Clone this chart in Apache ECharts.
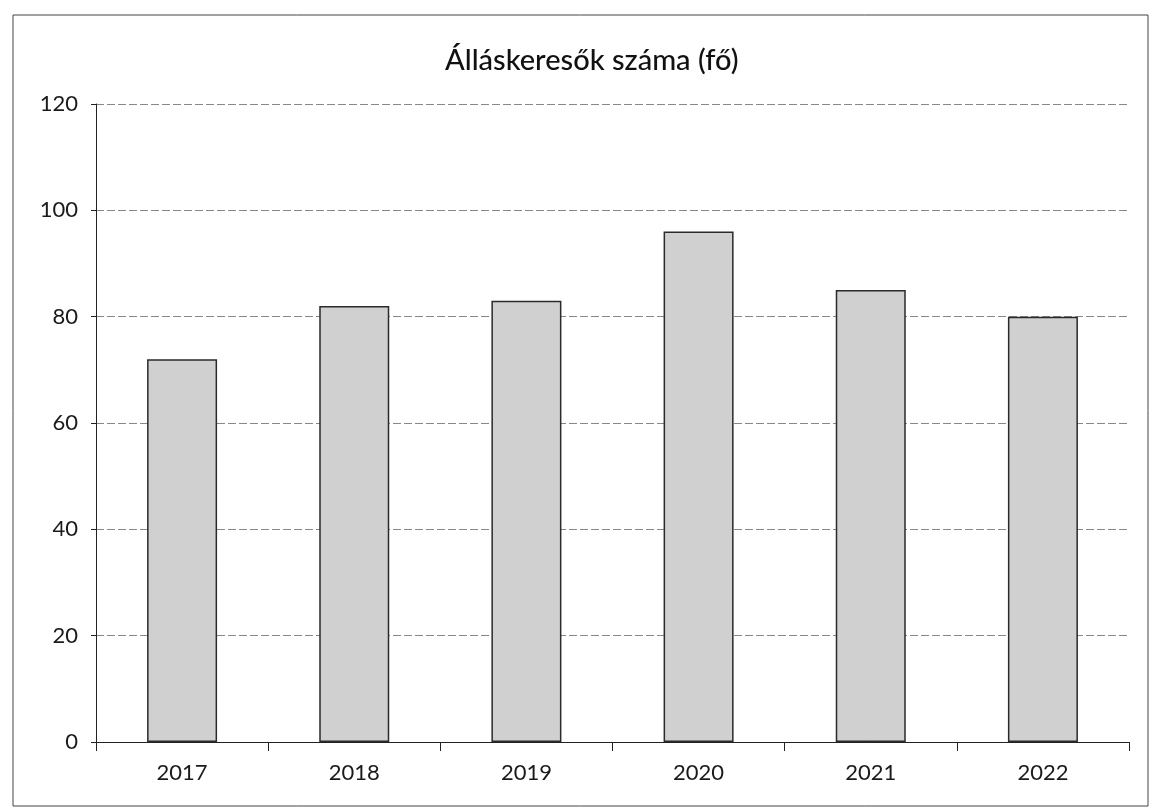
<!DOCTYPE html>
<html>
<head>
<meta charset="utf-8">
<script src="https://cdn.jsdelivr.net/npm/echarts@6/dist/echarts.min.js"></script>
<style>
html,body{margin:0;padding:0;background:#fff;}
#chart{width:1151px;height:810px;}
</style>
</head>
<body>
<div id="chart"></div>
<script>
const titleText = 'Álláskeresők száma (fő)';
const years = ['2017', '2018', '2019', '2020', '2021', '2022'];
const values = [72, 82, 83, 96, 85, 80];
const yTicks = { min: 0, max: 120, interval: 20 };

const chart = echarts.init(document.getElementById('chart'));
chart.setOption({
  backgroundColor: '#fff',
  animation: false,
  textStyle: { fontFamily: 'Lato' },
  title: {
    text: titleText,
    left: 440,
    top: 41,
    textStyle: { fontFamily: 'Lato', fontSize: 29, fontWeight: 500, color: '#111' }
  },
  graphic: [{
    type: 'rect',
    shape: { x: 13, y: 15, width: 1135, height: 791 },
    style: { fill: 'none', stroke: '#444', lineWidth: 1 },
    silent: true
  }],
  grid: { left: 96, right: 22, top: 104, bottom: 68 },
  xAxis: {
    type: 'category',
    data: years,
    axisLine: { lineStyle: { color: '#222', width: 1 } },
    axisTick: { show: true, length: 9, alignWithLabel: false, lineStyle: { color: '#222' } },
    axisLabel: { fontSize: 22, color: '#1a1a1a', margin: 20, fontFamily: 'Lato' }
  },
  yAxis: {
    type: 'value',
    min: yTicks.min, max: yTicks.max, interval: yTicks.interval,
    axisLine: { show: true, lineStyle: { color: '#222', width: 1 } },
    axisTick: { show: true, length: 5, lineStyle: { color: '#222' } },
    axisLabel: { fontSize: 22, color: '#1a1a1a', margin: 18, fontFamily: 'Lato' },
    splitLine: { show: true, lineStyle: { color: '#888', width: 1, type: [8, 3] } }
  },
  series: [{
    type: 'bar',
    data: values,
    barWidth: 70,
    itemStyle: { color: '#d0d0d0', borderColor: '#2a2a2a', borderWidth: 1.5 }
  }]
});
</script>
</body>
</html>
